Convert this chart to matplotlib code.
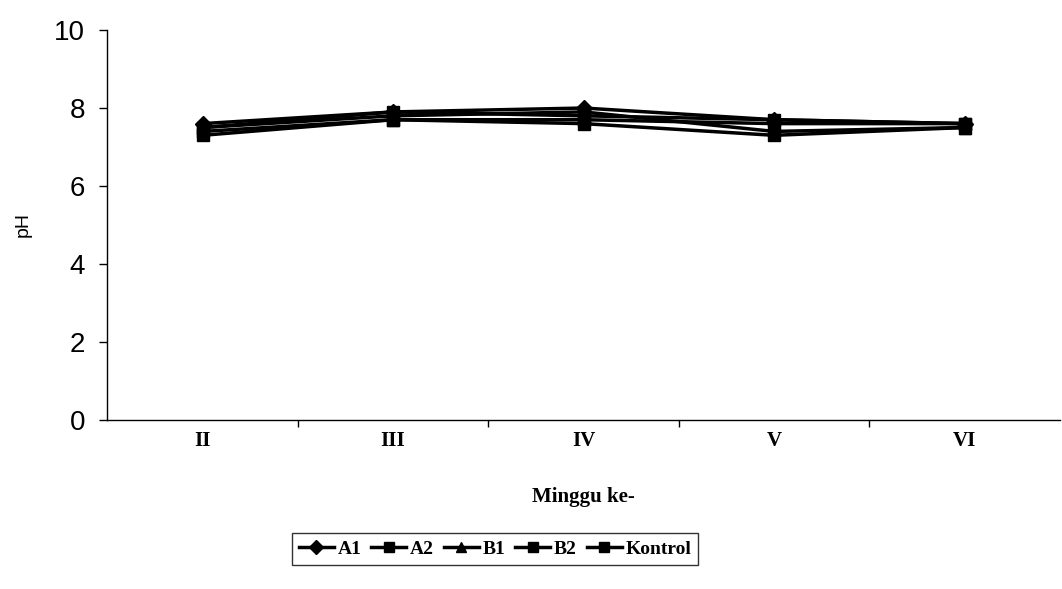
import matplotlib
matplotlib.use("Agg")
import matplotlib.pyplot as plt
import numpy as np

weeks = ["II", "III", "IV", "V", "VI"]
A1 = [7.6, 7.9, 8.0, 7.7, 7.6]
A2 = [7.4, 7.7, 7.6, 7.3, 7.5]
B1 = [7.5, 7.8, 7.9, 7.4, 7.5]
B2 = [7.3, 7.7, 7.7, 7.6, 7.6]
Kontrol = [7.5, 7.9, 7.8, 7.7, 7.6]

series = [("A1", A1, "D"), ("A2", A2, "s"), ("B1", B1, "^"), ("B2", B2, "s"), ("Kontrol", Kontrol, "s")]

fig = plt.figure(figsize=(10.62, 5.89), dpi=100)
ax = fig.add_axes([0.101, 0.287, 0.897, 0.662])
x = np.arange(len(weeks))
for name, vals, m in series:
    ax.plot(x, vals, color="black", lw=2.5, marker=m, ms=9 if m != "D" else 8,
            markerfacecolor="black", markeredgecolor="black", label=name)

ax.set_xlim(-0.5, len(weeks) - 0.5)
ax.set_ylim(0, 10)
ax.set_yticks([0, 2, 4, 6, 8, 10])
ax.set_yticklabels(["0", "2", "4", "6", "8", "10"], fontsize=20, family="Liberation Sans")
ax.tick_params(axis="y", direction="out", length=6, width=1, pad=10)
ax.set_xticks(x)
ax.set_xticklabels(weeks, fontsize=15, family="Liberation Serif", fontweight="bold")
ax.tick_params(axis="x", length=0, pad=8)
ax.set_xticks(np.arange(0.5, len(weeks) - 0.5, 1), minor=True)
ax.tick_params(axis="x", which="minor", direction="out", length=5, width=1)
for s in ["top", "right"]:
    ax.spines[s].set_visible(False)
ax.spines["left"].set_linewidth(1)
ax.spines["bottom"].set_linewidth(1)

ax.set_ylabel("pH", fontsize=14, family="Liberation Sans", labelpad=16)
ax.set_xlabel("Minggu ke-", fontsize=15, family="Liberation Serif", fontweight="bold", labelpad=26)

leg = ax.legend(loc="center", bbox_to_anchor=((495 / 1062 - 0.101) / 0.897, (1 - 549 / 589 - 0.287) / 0.662),
                ncol=5, frameon=True, fancybox=False, edgecolor="black",
                prop={"family": "Liberation Serif", "size": 14, "weight": "bold"}, handlelength=1.8,
                handletextpad=0.2, columnspacing=0.5, borderpad=0.35, markerscale=0.85)
leg.get_frame().set_linewidth(1)

fig.savefig("out.png", dpi=100)
